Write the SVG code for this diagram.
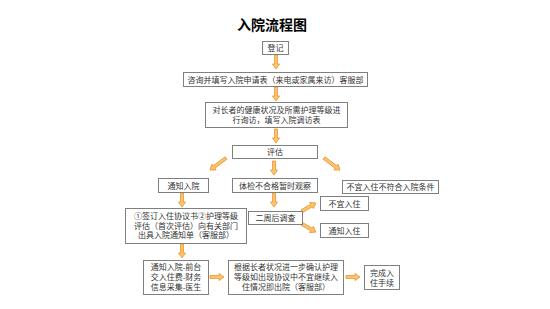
<svg xmlns="http://www.w3.org/2000/svg" xmlns:xlink="http://www.w3.org/1999/xlink" width="550" height="309" viewBox="0 0 550 309">
<style>
.b{fill:#fff;stroke:#7f7f7f;stroke-width:1}
.t{font-family:"Liberation Sans","Noto Sans CJK SC",sans-serif;font-size:8px;fill:#333;text-anchor:middle}
.ti{font-family:"Liberation Sans","Noto Sans CJK SC",sans-serif;font-size:14px;font-weight:bold;fill:#000;text-anchor:middle}
.a{fill:#f9c46f;stroke:#ef952f;stroke-width:0.8;stroke-linejoin:miter}
</style>
<defs>
<path id="arr" d="M0,-1.5 H9 V-3.6 L14,0 L9,3.6 V1.5 H0 Z"/>
<path id="arrL" d="M0,-1.5 H15 V-3.6 L20,0 L15,3.6 V1.5 H0 Z"/>
<path id="arrM" d="M0,-1.5 H11 V-3.6 L16,0 L11,3.6 V1.5 H0 Z"/>
</defs>
<rect width="550" height="309" fill="#fff"/>
<text class="ti" x="272" y="30">入院流程图</text>
<g id="connectors" class="a">
<use href="#arr" transform="translate(276,55) rotate(90)"/>
<use href="#arr" transform="translate(276,87) rotate(90)"/>
<use href="#arr" transform="translate(276,129) rotate(90)"/>
<use href="#arr" transform="translate(274,161) rotate(90)"/>
<use href="#arrL" transform="translate(226,158) rotate(143)"/>
<use href="#arrL" transform="translate(324,158) rotate(37)"/>
<use href="#arr" transform="translate(182,193) rotate(90)"/>
<use href="#arr" transform="translate(274,193) rotate(90)"/>
<use href="#arr" transform="translate(182,244) rotate(90)"/>
<use href="#arrM" transform="translate(302,211) rotate(-30)"/>
<use href="#arrM" transform="translate(302,224) rotate(30)"/>
<use href="#arr" transform="translate(210,277)"/>
<use href="#arr" transform="translate(346,277)"/>
</g>
<g id="n1"><rect class="b" x="262.5" y="41.5" width="26" height="13"/><text class="t" x="275.5" y="51">登记</text></g>
<g id="n2"><rect class="b" x="183.5" y="72.5" width="184" height="14"/><text class="t" x="275.5" y="82.5">咨询并填写入院申请表（来电或家属来访）客服部</text></g>
<g id="n3"><rect class="b" x="205.5" y="102.5" width="142" height="25"/><text class="t" x="276.5" y="113">对长者的健康状况及所需护理等级进</text><text class="t" x="276.5" y="123">行询访，填写入院调访表</text></g>
<g id="n4"><rect class="b" x="232.5" y="145.5" width="85" height="13"/><text class="t" x="275" y="155">评估</text></g>
<g id="n5"><rect class="b" x="158.5" y="178.5" width="50" height="14"/><text class="t" x="183.5" y="188.5">通知入院</text></g>
<g id="n6"><rect class="b" x="232.5" y="178.5" width="85" height="14"/><text class="t" x="275" y="188.5">体检不合格暂时观察</text></g>
<g id="n7"><rect class="b" x="342.5" y="180.5" width="96" height="13"/><text class="t" x="390.5" y="190">不宜入住不符合入院条件</text></g>
<g id="n8"><rect class="b" x="125.5" y="208.5" width="121" height="35"/><text class="t" x="186" y="219">①签订入住协议书②护理等级</text><text class="t" x="186" y="228.5">评估（首次评估）向有关部门</text><text class="t" x="186" y="238">出具入院通知单（客服部）</text></g>
<g id="n9"><rect class="b" x="248.5" y="211.5" width="54" height="13"/><text class="t" x="275.5" y="221">二周后调查</text></g>
<g id="n10"><rect class="b" x="320.5" y="196.5" width="48" height="14"/><text class="t" x="344.5" y="206.5">不宜入住</text></g>
<g id="n11"><rect class="b" x="320.5" y="223.5" width="48" height="14"/><text class="t" x="344.5" y="233.5">通知入住</text></g>
<g id="n12"><rect class="b" x="143.5" y="260.5" width="65" height="34"/><text class="t" x="176" y="269.5">通知入院-前台</text><text class="t" x="176" y="279.5">交入住费-财务</text><text class="t" x="176" y="289.5">信息采集-医生</text></g>
<g id="n13"><rect class="b" x="228.5" y="260.5" width="115" height="34"/><text class="t" x="286" y="269.5">根据长者状况进一步确认护理</text><text class="t" x="286" y="279.5">等级如出现协议中不宜继续入</text><text class="t" x="286" y="289.5">住情况即出院（客服部）</text></g>
<g id="n14"><rect class="b" x="364.5" y="265.5" width="35" height="24"/><text class="t" x="382" y="275.5">完成入</text><text class="t" x="382" y="285.5">住手续</text></g>
</svg>
